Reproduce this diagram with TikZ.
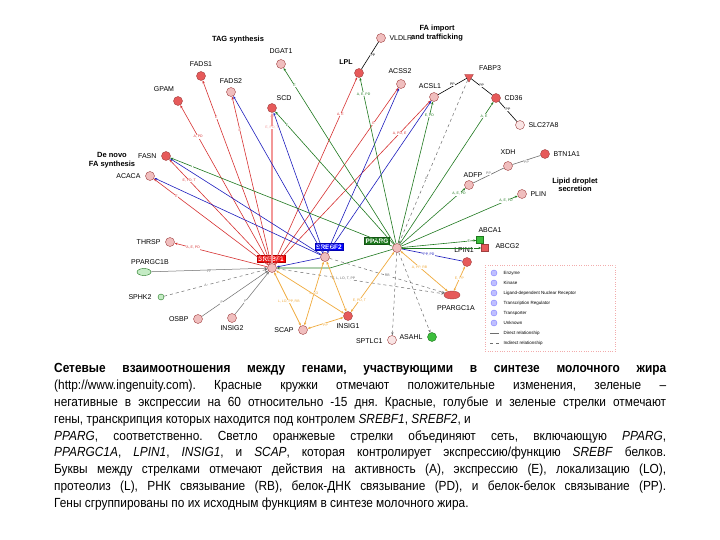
\documentclass[tikz,border=0pt]{standalone}
\usepackage{fontspec}
\setmainfont{Liberation Sans}
\newfontfamily\capfont{Liberation Sans}[FakeStretch=0.9]
\usetikzlibrary{arrows.meta,shapes.geometric}
\definecolor{nred}{RGB}{230,90,90}
\definecolor{npink}{RGB}{240,190,190}
\definecolor{ngreen}{RGB}{60,190,60}
\definecolor{ered}{RGB}{215,50,50}
\definecolor{eblue}{RGB}{30,30,190}
\definecolor{egreen}{RGB}{30,120,30}
\definecolor{eorange}{RGB}{240,170,60}
\definecolor{egrey}{RGB}{110,110,110}
\begin{document}
\begin{tikzpicture}[x=1pt,y=-1pt,
  g/.style={circle,draw=nred!70!black,fill=npink,inner sep=0pt,minimum size=9pt},
  gr/.style={g,fill=nred},
  gg/.style={g,fill=ngreen,draw=egreen},
  lab/.style={font=\fontsize{7}{8}\selectfont},
  ttl/.style={font=\bfseries\fontsize{7.5}{8.5}\selectfont,align=center},
  el/.style={font=\fontsize{3.5}{4}\selectfont,fill=white,inner sep=0.3pt},
  r/.style={ered,-{Stealth[length=3pt]},line width=0.6pt},
  b/.style={eblue,-{Stealth[length=3pt]},line width=0.6pt},
  gn/.style={egreen,-{Stealth[length=3pt]},line width=0.6pt},
  o/.style={eorange,{Stealth[length=3pt]}-{Stealth[length=3pt]},line width=0.7pt},
  gy/.style={egrey,-{Stealth[length=3pt]},line width=0.5pt},
  dsh/.style={egrey,dashed,-{Stealth[length=3pt]},line width=0.5pt},
  k/.style={black,line width=0.6pt},
  tf/.style={draw=#1!70!black,fill=#1,text=white,font=\bfseries\fontsize{6.5}{7}\selectfont,inner sep=1pt}]
\useasboundingbox (0,0) rectangle (720,540);
\fill[white] (0,0) rectangle (720,540);
% titles
\node[ttl] (t1) at (238,40) {TAG synthesis};
\node[ttl] (t2) at (112,160) {De novo\\FA synthesis};
\node[ttl] (t3) at (437,33) {FA import\\and trafficking};
\node[ttl] (t4) at (575,185) {Lipid droplet\\secretion};
% hubs
\node[g] (s1) at (272,268) {};
\node[tf=red] (s1l) at (271,259) {SREBF1};
\node[g] (s2) at (325,257) {};
\node[tf=blue] (s2l) at (329,247) {SREBF2};
\node[g] (pg) at (397,248) {};
\node[tf=egreen] (pgl) at (377,241) {PPARG};
% genes
\node[g] (dgat1) at (281,64) {}; \node[lab] (dgat1l) at (281,51) {DGAT1};
\node[gr] (fads1) at (201,76) {}; \node[lab] (fads1l) at (201,64) {FADS1};
\node[g] (fads2) at (231,92) {}; \node[lab] (fads2l) at (231,81) {FADS2};
\node[gr] (gpam) at (178,101) {}; \node[lab] (gpaml) at (164,89) {GPAM};
\node[gr] (scd) at (272,108) {}; \node[lab] (scdl) at (284,98) {SCD};
\node[gr] (lpl) at (359,73) {}; \node[lab,font=\bfseries\fontsize{7}{8}\selectfont] (lpll) at (346,62) {LPL};
\node[g] (vldlr) at (381,38) {}; \node[lab,anchor=west] (vldlrl) at (386,38) {VLDLR};
\node[g] (acss2) at (401,84) {}; \node[lab] (acss2l) at (400,71) {ACSS2};
\node[g] (acsl1) at (434,97) {}; \node[lab] (acsl1l) at (430,86) {ACSL1};
\node[gr,regular polygon,regular polygon sides=3,shape border rotate=180,minimum size=10pt] (fabp3) at (469,77) {}; \node[lab] (fabp3l) at (490,68) {FABP3};
\node[gr] (cd36) at (496,98) {}; \node[lab,anchor=west] (cd36l) at (501,98) {CD36};
\node[g,fill=npink!40] (slc) at (520,125) {}; \node[lab,anchor=west] (slcl) at (525,125) {SLC27A8};
\node[g] (xdh) at (508,166) {}; \node[lab] (xdhl) at (508,152) {XDH};
\node[gr] (btn) at (545,154) {}; \node[lab,anchor=west] (btnl) at (550,154) {BTN1A1};
\node[g] (adfp) at (469,185) {}; \node[lab] (adfpl) at (473,175) {ADFP};
\node[g] (plin) at (522,194) {}; \node[lab,anchor=west] (plinl) at (527,194) {PLIN};
\node[gr] (fasn) at (166,156) {}; \node[lab,anchor=east] (fasnl) at (160,156) {FASN};
\node[g] (acaca) at (150,176) {}; \node[lab,anchor=east] (acacal) at (144,176) {ACACA};
\node[g] (thrsp) at (170,242) {}; \node[lab,anchor=east] (thrspl) at (164,242) {THRSP};
\node[gg,fill=ngreen!30,ellipse,minimum width=14pt,minimum height=7pt] (pgc1b) at (144,272) {}; \node[lab] (pgc1bl) at (150,262) {PPARGC1B};
\node[gg,fill=ngreen!30,minimum size=6pt] (sphk2) at (161,297) {}; \node[lab,anchor=east] (sphk2l) at (155,297) {SPHK2};
\node[g] (osbp) at (198,319) {}; \node[lab,anchor=east] (osbpl) at (192,319) {OSBP};
\node[g] (insig2) at (232,318) {}; \node[lab] (insig2l) at (232,328) {INSIG2};
\node[g] (scap) at (303,330) {}; \node[lab,anchor=east] (scapl) at (297,330) {SCAP};
\node[gr] (insig1) at (348,316) {}; \node[lab] (insig1l) at (348,326) {INSIG1};
\node[g,fill=npink!40] (sptlc1) at (392,340) {}; \node[lab,anchor=east] (sptlc1l) at (386,341) {SPTLC1};
\node[gg] (asahl) at (432,337) {}; \node[lab,anchor=east] (asahll) at (426,337) {ASAHL};
\node[gr,ellipse,minimum width=16pt,minimum height=8pt] (pgc1a) at (452,295) {}; \node[lab] (pgc1al) at (456,308) {PPARGC1A};
\node[gr] (lpin1) at (467,262) {}; \node[lab] (lpin1l) at (464,250) {LPIN1};
\node[gg,rectangle,minimum size=7pt] (abca1) at (480,240) {}; \node[lab] (abca1l) at (490,230) {ABCA1};
\node[gr,rectangle,minimum size=7pt] (abcg2) at (485,248) {}; \node[lab,anchor=west] (abcg2l) at (492,246) {ABCG2};
% SREBF1 edges
\foreach \t/\l in {thrsp/{A, E, PD},acaca/{E},fasn/{E, PD, T},gpam/{A, PD},fads1/{E},fads2/{E},lpl/{A, E},acss2/{E},acsl1/{A, PD, E}}
  \draw[r] (s1) -- node[el,pos=0.8]{\l} (\t);
\draw[npink!80!red,line width=2pt,-{Stealth[length=4pt]}] (s1) -- node[el,pos=0.9]{E, PD, T} (scd);
% SREBF2 edges
\foreach \t in {acaca,fasn,fads2,scd,acss2,acsl1,s1}
  \draw[b] (s2) -- (\t);
\draw[b,-] (pg) -- node[el,pos=0.45]{PP, PD} (lpin1);
% PPARG edges
\foreach \t/\l in {fasn/{},dgat1/{E},scd/{E},lpl/{A, E, PD},acsl1/{E, PD},cd36/{A, E},adfp/{A, E, PD},plin/{A, E, PD},abca1/{E},abcg2/{}}
  \draw[gn] (pg) -- node[el,pos=0.9]{\l} (\t);
\draw[gn] (pg) -- (330,268) -- (s1);
\draw[dsh] (fabp3) -- node[el,pos=0.6]{A} (pg);
\draw[k] (lpl) -- node[el,right]{PP} (vldlr);
\draw[k] (acsl1) -- node[el,above]{PP} (fabp3);
\draw[k] (fabp3) -- node[el,above]{PP} (cd36);
\draw[k] (cd36) -- node[el,above]{PP} (slc);
\draw[egrey,line width=0.6pt] (adfp) -- node[el,above]{PP} (xdh) -- node[el,below]{PP} (btn);
% grey edges
\draw[gy] (pgc1b) -- node[el,below]{PP} (s1);
\draw[dsh] (sphk2) -- node[el,pos=0.4]{A} (s1);
\draw[gy] (osbp) -- node[el,pos=0.3]{P} (s1);
\draw[gy] (insig2) -- node[el,pos=0.3]{P} (s1);
\draw[dsh] (s1) -- node[el,pos=0.4]{E, L, LO, T, PP} (pgc1a);
\draw[dsh] (s2) -- node[el,pos=0.5]{RB} (pgc1a);
\draw[dsh] (pg) -- (sptlc1);
\draw[dsh] (pg) -- (asahl);
% orange
\draw[o] (scap) -- node[el,pos=0.45]{L, LO, PP, RB} (s1);
\draw[o] (scap) -- node[el,pos=0.5]{L, LO} (s2);
\draw[o] (scap) -- node[el,below]{PP} (insig1);
\draw[o] (insig1) -- (s1);
\draw[o] (insig1) -- (s2);
\draw[o] (insig1) -- node[el,pos=0.2]{E, PD, T} (pg);
\draw[o] (pg) -- node[el,pos=0.4]{A, PP, RB} (pgc1a);
\draw[o] (lpin1) -- node[el,pos=0.5]{E, PP} (pgc1a);
% legend
\node[draw=nred!50,dotted,minimum width=130pt,minimum height=86pt,anchor=north west] (leg) at (485,265) {};
\foreach \i/\t in {0/Enzyme,1/Kinase,2/Ligand-dependent Nuclear Receptor,3/Transcription Regulator,4/Transporter,5/Unknown}{
  \node[circle,fill=blue!25,draw=blue!50,inner sep=0pt,minimum size=6pt] (li\i) at (494,273+10*\i) {};
  \node[lab,font=\fontsize{4.5}{5}\selectfont,anchor=west] (lt\i) at (500,273+10*\i) {\t};}
\coordinate (d1) at (490,333); \coordinate (d2) at (499,333);
\coordinate (d3) at (490,343); \coordinate (d4) at (499,343);
\draw[egrey] (d1) -- (d2); \draw[egrey,dashed] (d3) -- (d4);
\node[lab,font=\fontsize{4.5}{5}\selectfont,anchor=west] (lt6) at (500,333) {Direct relationship};
\node[lab,font=\fontsize{4.5}{5}\selectfont,anchor=west] (lt7) at (500,343) {Indirect relationship};
% caption
\node[anchor=north west,inner sep=0pt,text width=612pt,align=justify] (cap) at (54,363) {\capfont\frenchspacing\fontsize{13.2}{16.9}\selectfont
\textbf{Сетевые взаимоотношения между генами, участвующими в синтезе молочного жира} (http://www.ingenuity.com). Красные кружки отмечают положительные изменения, зеленые –\linebreak негативные в экспрессии на 60 относительно -15 дня. Красные, голубые и зеленые стрелки отмечают\linebreak гены, транскрипция которых находится под контролем \textit{SREBF1}, \textit{SREBF2}, и\\
\textit{PPARG}, соответственно. Светло оранжевые стрелки объединяют сеть, включающую \textit{PPARG},\linebreak \textit{PPARGC1A}, \textit{LPIN1}, \textit{INSIG1}, и \textit{SCAP}, которая контролирует экспрессию/функцию \textit{SREBF} белков.\linebreak Буквы между стрелками отмечают действия на активность (А), экспрессию (Е), локализацию (LO),\linebreak протеолиз (L), РНК связывание (RB), белок-ДНК связывание (PD), и белок-белок связывание (PP).\linebreak Гены сгруппированы по их исходным функциям в синтезе молочного жира.\par};
\end{tikzpicture}
\end{document}
